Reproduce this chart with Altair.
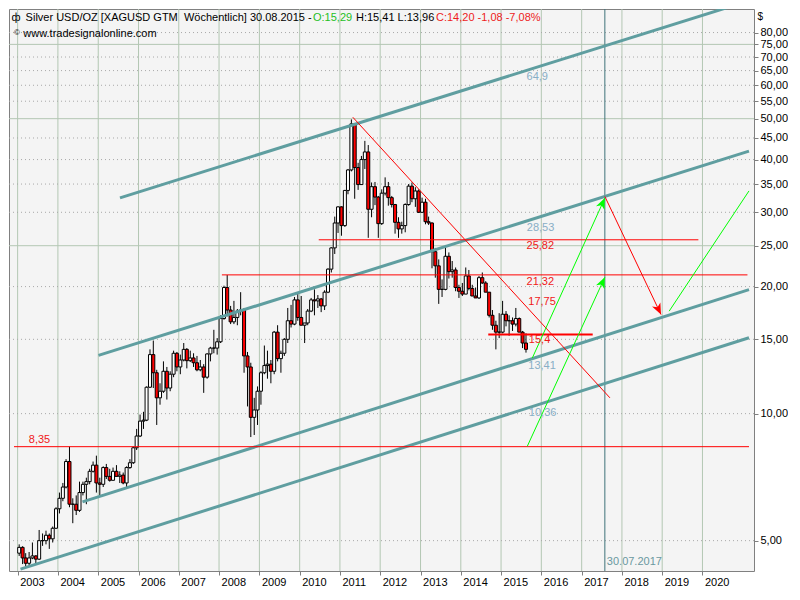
import altair as alt
import pandas as pd
import numpy as np

FONT = "Liberation Sans"
W, H = 745, 562

# ---------------- monthly candles, Jan 2003 - Aug 2015 (USD/oz) ----------------
open_ = [
    4.67, 4.82, 4.55, 4.42, 4.55, 4.60, 4.52, 5.00, 5.00, 5.15, 5.05, 5.35,
    5.95, 6.30, 6.70, 7.70, 6.10, 6.10, 5.90, 6.50, 6.80, 6.90, 7.30, 7.55,
    6.85, 6.80, 7.45, 7.10, 6.95, 7.30, 7.10, 7.15, 6.85, 7.45, 7.65, 8.30,
    8.85, 9.60, 9.65, 11.55, 13.80, 12.50, 10.90, 11.30, 12.60, 11.50, 12.40, 13.90,
    12.90, 13.40, 14.20, 13.35, 13.55, 13.20, 12.70, 12.90, 12.20, 13.85, 14.30, 14.30,
    14.80, 16.80, 19.90, 17.60, 16.50, 16.90, 17.50, 17.60, 13.70, 12.90, 9.80, 10.20,
    11.30, 12.50, 13.00, 13.10, 12.60, 15.60, 13.50, 13.90, 15.00, 16.60, 16.30, 18.60,
    16.90, 16.20, 16.40, 17.50, 18.60, 18.50, 18.70, 18.00, 19.40, 22.00, 24.70, 28.30,
    30.90, 27.90, 33.80, 37.80, 48.60, 38.30, 34.90, 40.00, 41.70, 30.50, 34.50, 32.60,
    28.20, 33.30, 34.50, 32.50, 31.30, 28.40, 27.40, 27.90, 31.30, 34.60, 32.30, 33.70,
    30.00, 31.70, 28.50, 28.30, 24.20, 22.40, 19.70, 19.70, 23.60, 21.70, 21.90, 19.90,
    19.50, 19.20, 21.20, 19.80, 19.00, 18.80, 21.00, 20.40, 19.40, 17.10, 16.20, 15.60,
    15.60, 17.20, 16.60, 16.60, 16.30, 16.80, 15.60, 14.70,
]
high_ = [
    4.90, 4.85, 4.67, 4.70, 4.95, 4.62, 5.30, 5.20, 5.28, 5.20, 5.40, 6.00,
    6.50, 6.85, 7.80, 8.35, 6.30, 6.40, 6.90, 6.90, 7.05, 7.40, 7.70, 7.95,
    7.05, 7.50, 7.60, 7.40, 7.45, 7.55, 7.30, 7.25, 7.50, 7.80, 8.35, 9.20,
    9.95, 10.10, 11.60, 14.20, 14.90, 12.70, 11.80, 13.30, 12.90, 12.60, 14.10, 14.00,
    13.80, 14.70, 14.30, 14.10, 13.90, 13.70, 13.40, 13.10, 13.90, 14.40, 15.80, 15.10,
    17.10, 20.10, 21.30, 18.00, 18.50, 17.70, 19.40, 17.80, 14.00, 13.20, 10.90, 11.60,
    12.60, 14.50, 14.10, 13.40, 15.70, 16.20, 14.10, 15.10, 17.80, 18.10, 18.90, 19.40,
    19.00, 16.40, 17.70, 18.80, 19.70, 19.10, 18.80, 19.60, 22.10, 24.80, 29.30, 31.00,
    31.00, 33.90, 38.00, 49.80, 48.70, 39.30, 40.80, 44.30, 43.30, 35.30, 35.40, 32.80,
    34.00, 36.30, 35.40, 32.80, 31.40, 29.20, 28.50, 31.50, 35.00, 35.30, 34.40, 34.00,
    32.50, 32.30, 29.30, 28.40, 24.70, 23.20, 20.80, 25.10, 24.10, 23.00, 22.20, 20.20,
    20.40, 22.20, 21.90, 20.20, 19.90, 21.20, 21.60, 20.60, 19.40, 17.60, 16.60, 17.30,
    18.50, 17.50, 17.10, 16.90, 17.80, 16.90, 15.70, 15.50,
]
low_ = [
    4.60, 4.40, 4.35, 4.37, 4.52, 4.42, 4.50, 4.86, 4.90, 4.78, 4.95, 5.33,
    5.80, 6.20, 6.65, 6.00, 5.50, 5.75, 5.85, 6.40, 6.10, 6.80, 7.25, 6.50,
    6.40, 6.70, 7.00, 6.90, 6.95, 7.10, 6.85, 6.80, 6.70, 7.40, 7.60, 8.20,
    8.80, 9.20, 9.60, 11.50, 11.50, 9.40, 10.50, 11.20, 10.80, 11.30, 12.20, 12.60,
    12.40, 13.30, 12.80, 13.25, 12.90, 12.60, 12.60, 11.20, 12.10, 13.30, 13.90, 13.80,
    14.70, 16.70, 17.00, 16.30, 16.30, 16.20, 17.10, 12.50, 10.40, 8.80, 8.90, 9.40,
    10.50, 12.40, 12.10, 11.80, 12.40, 13.30, 12.50, 13.70, 14.70, 16.00, 16.20, 16.60,
    16.20, 14.70, 16.20, 17.40, 17.10, 17.80, 17.40, 17.60, 19.30, 21.60, 23.90, 26.80,
    26.40, 27.70, 33.10, 37.50, 32.30, 33.90, 34.90, 38.00, 26.10, 29.20, 31.20, 26.10,
    28.00, 32.90, 31.10, 30.80, 26.70, 26.10, 26.70, 26.90, 31.10, 31.70, 30.90, 29.90,
    29.90, 28.10, 28.00, 22.10, 21.00, 18.20, 18.90, 19.60, 20.90, 21.00, 19.50, 18.80,
    19.00, 19.20, 19.60, 19.00, 18.80, 18.70, 20.30, 19.40, 16.90, 15.80, 14.20, 15.10,
    15.50, 16.10, 15.30, 15.70, 16.10, 15.60, 14.30, 13.95,
]
close_ = [
    4.82, 4.55, 4.42, 4.55, 4.60, 4.52, 5.00, 5.00, 5.15, 5.05, 5.35, 5.95,
    6.30, 6.70, 7.70, 6.10, 6.10, 5.90, 6.50, 6.80, 6.90, 7.30, 7.55, 6.85,
    6.80, 7.45, 7.10, 6.95, 7.30, 7.10, 7.15, 6.85, 7.45, 7.65, 8.30, 8.85,
    9.60, 9.65, 11.55, 13.80, 12.50, 10.90, 11.30, 12.60, 11.50, 12.40, 13.90, 12.90,
    13.40, 14.20, 13.35, 13.55, 13.20, 12.70, 12.90, 12.20, 13.85, 14.30, 14.30, 14.80,
    16.80, 19.90, 17.60, 16.50, 16.90, 17.50, 17.60, 13.70, 12.90, 9.80, 10.20, 11.30,
    12.50, 13.00, 13.10, 12.60, 15.60, 13.50, 13.90, 15.00, 16.60, 16.30, 18.60, 16.90,
    16.20, 16.40, 17.50, 18.60, 18.50, 18.70, 18.00, 19.40, 22.00, 24.70, 28.30, 30.90,
    27.90, 33.80, 37.80, 48.60, 38.30, 34.90, 40.00, 41.70, 30.50, 34.50, 32.60, 28.20,
    33.30, 34.50, 32.50, 31.30, 28.40, 27.40, 27.90, 31.30, 34.60, 32.30, 33.70, 30.00,
    31.70, 28.50, 28.30, 24.20, 22.40, 19.70, 19.70, 23.60, 21.70, 21.90, 19.90, 19.50,
    19.20, 21.20, 19.80, 19.00, 18.80, 21.00, 20.40, 19.40, 17.10, 16.20, 15.60, 15.60,
    17.20, 16.60, 16.60, 16.30, 16.80, 15.60, 14.70, 14.20,
]

# ---------------- drawn objects (dates, USD/oz) ----------------
channel_from = ["2005-07-17", "2005-01-03", "2004-08-11", "2003-01-27"]
channel_from_val = [32.45, 13.74, 6.18, 4.28]
channel_to = ["2021-02-23", "2021-02-26", "2021-02-26", "2021-02-26"]
channel_to_val = [95.1, 41.88, 19.68, 15.13]

level_val = [8.35, 21.32, 25.82]
level_from = ["2002-11-29", "2008-01-27", "2010-06-23"]
level_to = ["2021-02-26", "2021-02-12", "2019-11-25"]

support_val = [15.4]
support_from = ["2014-09-07"]
support_to = ["2017-04-11"]

trend_from = ["2011-04-28"]
trend_from_val = [50.4]
trend_to = ["2017-09-14"]
trend_to_val = [10.9]

red_arrow_from = ["2017-07-30"]
red_arrow_from_val = [32.71]
red_arrow_to = ["2018-12-21"]
red_arrow_to_val = [17.18]

green_arrow_from = ["2015-10-11", "2015-08-27"]
green_arrow_from_val = [13.54, 8.37]
green_arrow_to = ["2017-07-30", "2017-07-30"]
green_arrow_to_val = [32.42, 21.05]

green_line_from = ["2019-03-05"]
green_line_from_val = [17.49]
green_line_to = ["2021-02-26"]
green_line_to_val = [33.71]

marker_date = ["2017-07-30"]
marker_text = ["30.07.2017"]
marker_text_val = [4.457]

label_text = ["64,9", "28,53", "25,82", "21,32", "17,75", "15,4", "13,41", "10,36", "8,35"]
label_val = [62.8, 27.59, 24.95, 20.48, 18.38, 14.91, 12.96, 10.05, 8.64]
label_date = ["2015-08-20", "2015-08-22", "2015-08-20", "2015-08-20", "2015-09-05",
              "2015-09-10", "2015-09-05", "2015-09-10", "2003-04-12"]
label_kind = ["teal", "teal", "red", "red", "red", "red", "teal", "teal", "red"]

years = list(range(2003, 2021))
price_ticks = list(range(5, 85, 5))
major_grid = [25, 50, 75]
minor_grid = [v for v in price_ticks if v not in major_grid]

header_main = "Silver USD/OZ [XAGUSD GTM\u00a0 Wöchentlich] 30.08.2015 -"
header_open = "O:15,29"
header_hl = "H:15,41 L:13,96"
header_close = "C:14,20 -1,08 -7,08%"
header_site = "www.tradesignalonline.com"

# ---------------- tables ----------------
months = pd.date_range("2003-01-01", periods=len(close_), freq="MS") + pd.Timedelta(days=14)
candles = pd.DataFrame({"date": months, "open": open_, "high": high_,
                        "low": low_, "close": close_})
candles["dir"] = np.where(candles["close"] >= candles["open"], "up", "down")


def seg(d1, v1, d2, v2):
    return pd.DataFrame({"x1": pd.to_datetime(d1), "y1": v1,
                         "x2": pd.to_datetime(d2), "y2": v2})


channels = seg(channel_from, channel_from_val, channel_to, channel_to_val)
levels = seg(level_from, level_val, level_to, level_val)
support = seg(support_from, support_val, support_to, support_val)
trend = seg(trend_from, trend_from_val, trend_to, trend_to_val)
red_arrow = seg(red_arrow_from, red_arrow_from_val, red_arrow_to, red_arrow_to_val)
green_arrows = seg(green_arrow_from, green_arrow_from_val, green_arrow_to, green_arrow_to_val)
green_line = seg(green_line_from, green_line_from_val, green_line_to, green_line_to_val)

labels = pd.DataFrame({"date": pd.to_datetime(label_date), "val": label_val,
                       "label": label_text, "kind": label_kind})
marker = pd.DataFrame({"date": pd.to_datetime(marker_date), "val": marker_text_val,
                       "label": marker_text})
year_df = pd.DataFrame({"date": pd.to_datetime([f"{y}-01-01" for y in years])})
major_df = pd.DataFrame({"v": major_grid})
minor_df = pd.DataFrame({"v": minor_grid})

# ---------------- scales / axes ----------------
xscale = alt.Scale(domain=[alt.DateTime(year=2002, month=11, date=29),
                           alt.DateTime(year=2021, month=2, date=26)], nice=False)
yscale = alt.Scale(type="log", domain=[4.237, 90.97], nice=False)
xaxis = alt.Axis(values=[alt.DateTime(year=y, month=1, date=1) for y in years],
                 format="%Y", labelAlign="left", labelOffset=2, tickSize=4,
                 labelPadding=1, grid=False, domain=False, title=None,
                 labelOverlap=False, labelFlush=False)
yaxis = alt.Axis(orient="right", values=price_ticks,
                 labelExpr="replace(format(datum.value, '.2f'), '.', ',')",
                 tickSize=4, labelPadding=2, grid=False, domain=False, title=None,
                 labelOverlap=False, labelFlush=False, labelBaseline="middle")


def X(f):
    return alt.X(f, type="temporal", scale=xscale, axis=xaxis)


def Y(f):
    return alt.Y(f, type="quantitative", scale=yscale, axis=yaxis)


TEAL = "#5f9ea0"
TEAL_TXT = "#88aec6"
RED = "#ff0000"
GREEN = "#00ff00"
GRID = "#b3c7b3"
ARROW = "M0,0L0.42,1L0,0.72L-0.42,1Z"

grid_v = alt.Chart(year_df).mark_rule(color=GRID, strokeWidth=1).encode(x=X("date"))
grid_major = alt.Chart(major_df).mark_rule(color=GRID, strokeWidth=1).encode(y=Y("v"))
grid_minor = alt.Chart(minor_df).mark_rule(color="#a8a8a8", strokeWidth=1,
                                            strokeDash=[1, 3]).encode(y=Y("v"))

marker_line = alt.Chart(marker).mark_rule(color="#3f7379", strokeWidth=1).encode(x=X("date"))
marker_lbl = alt.Chart(marker).mark_text(align="left", baseline="middle", dx=2,
                                         font=FONT, fontSize=11, color="#6a98a0").encode(
    x=X("date"), y=Y("val"), text="label:N")

wicks = alt.Chart(candles).mark_rule(color="black", strokeWidth=1).encode(
    x=X("date"), y=Y("low"), y2="high")
bodies = alt.Chart(candles).mark_bar(size=3, stroke="black", strokeWidth=1).encode(
    x=X("date"), y=Y("open"), y2="close",
    fill=alt.Fill("dir:N", scale=alt.Scale(domain=["up", "down"], range=["white", RED]),
                  legend=None))


def seg_layer(df, color, width, clip=False):
    return alt.Chart(df).mark_rule(color=color, strokeWidth=width, clip=clip).encode(
        x=X("x1"), y=Y("y1"), x2="x2", y2="y2")


ch_layer = seg_layer(channels, TEAL, 3, clip=True)
lvl_layer = seg_layer(levels, RED, 1)
sup_layer = seg_layer(support, RED, 2.2)
trend_layer = seg_layer(trend, RED, 1)
red_arrow_layer = seg_layer(red_arrow, RED, 1)
green_arrow_layer = seg_layer(green_arrows, GREEN, 1)
green_line_layer = seg_layer(green_line, GREEN, 1, clip=True)

green_heads = alt.Chart(green_arrows).mark_point(
    shape=ARROW, filled=True, size=484, angle=24.8, color=GREEN, opacity=1,
    strokeWidth=0).encode(x=X("x2"), y=Y("y2"))
red_heads = alt.Chart(red_arrow).mark_point(
    shape=ARROW, filled=True, size=484, angle=154.3, color=RED, opacity=1,
    strokeWidth=0).encode(x=X("x2"), y=Y("y2"))

value_labels = alt.Chart(labels).mark_text(align="left", baseline="middle",
                                           font=FONT, fontSize=11).encode(
    x=X("date"), y=Y("val"), text="label:N",
    color=alt.Color("kind:N", scale=alt.Scale(domain=["teal", "red"],
                                              range=[TEAL_TXT, "#f01818"]), legend=None))


def txt(s, x, y, color="black", size=11):
    return alt.Chart(pd.DataFrame({"t": [s]})).mark_text(
        align="left", baseline="middle", font=FONT, fontSize=size, color=color).encode(
        x=alt.value(x), y=alt.value(y), text="t:N")


headers = [
    txt("ф", 2.5, 9, size=11),
    txt(header_main, 16.6, 9),
    txt(header_open, 304, 9, color="#1fbf1f"),
    txt(header_hl, 347, 9),
    txt(header_close, 427, 9, color="#ee1c1c"),
    txt("©", 5, 24, size=8),
    txt(header_site, 14.3, 24.5),
    txt("$", W + 3.5, 8, size=10),
]

chart = alt.layer(
    grid_v, grid_major, grid_minor, marker_line,
    wicks, bodies,
    ch_layer, lvl_layer, sup_layer, trend_layer, red_arrow_layer,
    green_arrow_layer, green_line_layer, green_heads, red_heads,
    value_labels, marker_lbl, *headers,
).properties(width=W, height=H, background="white", padding=0).configure_view(
    fill="#f4f4f4", stroke="#808080", strokeWidth=1
).configure_axis(
    labelFont=FONT, labelFontSize=11, labelColor="black", tickColor="#808080"
)

chart.save("out.html", embed_options={"renderer": "svg", "actions": False})
